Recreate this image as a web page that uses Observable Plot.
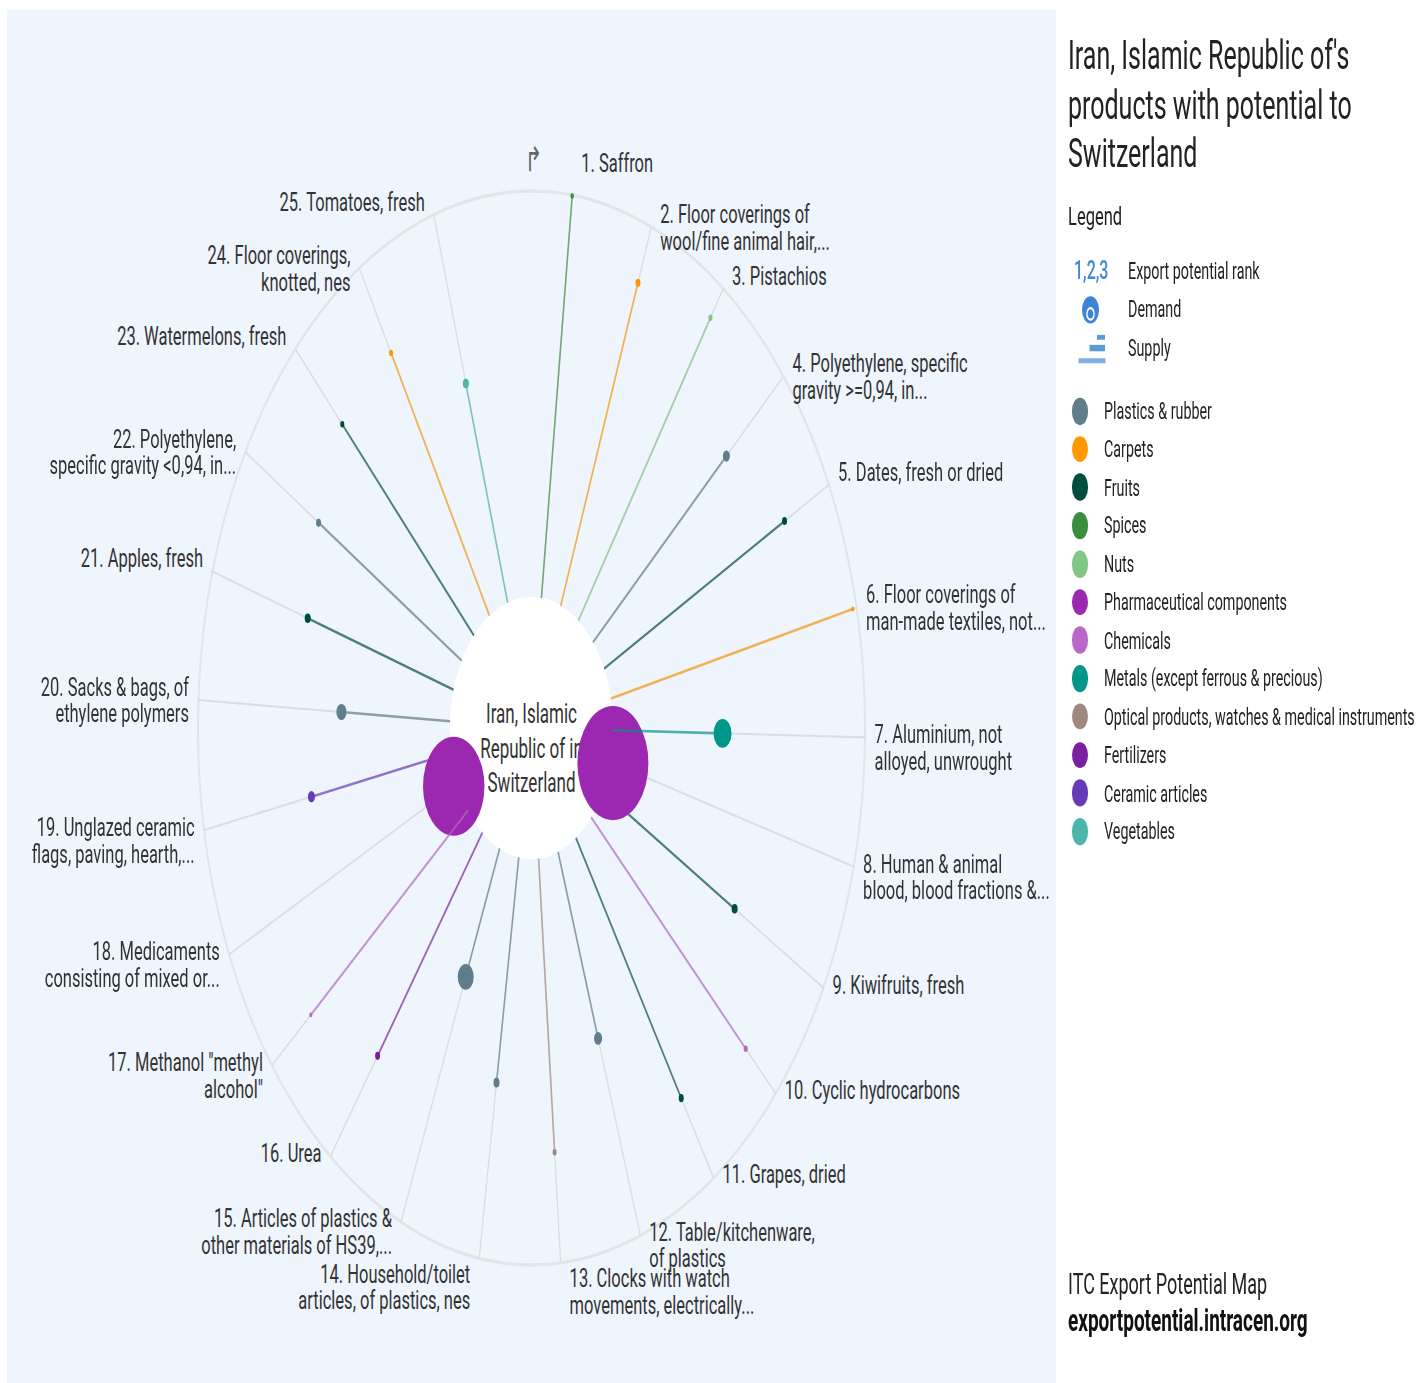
<!DOCTYPE html>
<html>
<head>
<meta charset="utf-8">
<script src="https://cdn.jsdelivr.net/npm/d3@7"></script>
<script src="https://cdn.jsdelivr.net/npm/@observablehq/plot@0.6"></script>
<style>
  html, body { margin: 0; padding: 0; background: #fff; }
  body { font-family: Roboto, "Noto Sans", sans-serif; color: #222; }
  #page { position: absolute; left: 0; top: 0; width: 1418px; height: 859px;
          transform: scaleY(1.61); transform-origin: 0 0; overflow: hidden; }
  #chart { position: absolute; left: 7px; top: 6.2px; }
  .abs { position: absolute; white-space: nowrap; }
  #title { left: 1068px; top: 20.2px; font-size: 25px; line-height: 30.4px; color: #222; }
  #legendTitle { left: 1068px; top: 125.4px; font-size: 16.5px; line-height: 20px; color: #222; }
  .row { position: absolute; left: 1068px; height: 18px; width: 340px; }
  .row .txt { position: absolute; top: 0; font-size: 14.3px; line-height: 18px; color: #222; white-space: nowrap; }
  .swatch { position: absolute; width: 16.6px; height: 16.6px; border-radius: 50%; }
  #foot1 { left: 1068px; font-size: 18px; line-height: 22px; color: #222; }
  #foot2 { left: 1068px; font-size: 19px; line-height: 22px; font-weight: 700; color: #111; }
</style>
</head>
<body>
<div id="page">
  <div id="chart"></div>
  <div class="abs" id="title">Iran, Islamic Republic of's<br>products with potential to<br>Switzerland</div>
  <div class="abs" id="legendTitle">Legend</div>
  <div id="legendTop"></div>
  <div id="legendSectors"></div>
  <div class="abs" id="foot1" style="top:786.5px">ITC Export Potential Map</div>
  <div class="abs" id="foot2" style="top:810.1px">exportpotential.intracen.org</div>
</div>
<script>
// ---------------- data ----------------
const ranks = d3.range(1, 26);

const products = [
  "Saffron",
  "Floor coverings of\nwool/fine animal hair,...",
  "Pistachios",
  "Polyethylene, specific\ngravity >=0,94, in...",
  "Dates, fresh or dried",
  "Floor coverings of\nman-made textiles, not...",
  "Aluminium, not\nalloyed, unwrought",
  "Human & animal\nblood, blood fractions &...",
  "Kiwifruits, fresh",
  "Cyclic hydrocarbons",
  "Grapes, dried",
  "Table/kitchenware,\nof plastics",
  "Clocks with watch\nmovements, electrically...",
  "Household/toilet\narticles, of plastics, nes",
  "Articles of plastics &\nother materials of HS39,...",
  "Urea",
  "Methanol \"methyl\nalcohol\"",
  "Medicaments\nconsisting of mixed or...",
  "Unglazed ceramic\nflags, paving, hearth,...",
  "Sacks & bags, of\nethylene polymers",
  "Apples, fresh",
  "Polyethylene,\nspecific gravity <0,94, in...",
  "Watermelons, fresh",
  "Floor coverings,\nknotted, nes",
  "Tomatoes, fresh"
];

const productSectors = [
  "Spices", "Carpets", "Nuts", "Plastics & rubber", "Fruits",
  "Carpets", "Metals (except ferrous & precious)", "Pharmaceutical components", "Fruits", "Chemicals",
  "Fruits", "Plastics & rubber", "Optical products, watches & medical instruments", "Plastics & rubber", "Plastics & rubber",
  "Fertilizers", "Chemicals", "Pharmaceutical components", "Ceramic articles", "Plastics & rubber",
  "Fruits", "Plastics & rubber", "Fruits", "Carpets", "Vegetables"
];

// relative distance of each product's dot from the centre disc (0 = disc edge, 1 = outer ring)
const potential = [
  1.0, 0.854, 0.913, 0.700, 0.802,
  0.983, 0.434, 0.011, 0.597, 0.837,
  0.766, 0.487, 0.728, 0.563, 0.344,
  0.690, 0.802, 0.017, 0.565, 0.431,
  0.604, 0.661, 0.737, 0.757, 0.566
];

// relative demand (bubble area)
const demand = [
  2.4, 5, 3.2, 9.7, 5,
  1.8, 64, 1000, 7.1, 3.2,
  5, 12.7, 3.2, 7.1, 51,
  5, 1.8, 748, 9.7, 20,
  7.1, 5, 3.2, 3.2, 7.1
];

const sectorNames = [
  "Plastics & rubber", "Carpets", "Fruits", "Spices", "Nuts",
  "Pharmaceutical components", "Chemicals", "Metals (except ferrous & precious)",
  "Optical products, watches & medical instruments", "Fertilizers", "Ceramic articles", "Vegetables"
];
const sectorColors = [
  "#607d8b", "#ff9800", "#004d40", "#388e3c", "#81c784",
  "#9c27b0", "#ba68c8", "#009688",
  "#a1887f", "#7b1fa2", "#673ab7", "#4db6ac"
];

const centreLabel = "Iran, Islamic\nRepublic of in\nSwitzerland";

// ---------------- layout ----------------
const W = 1049, H = 853;
const CX = 524, CY = 445.7, RX = 334, RY = 333;
const INNER = 81.5 / RX;
const FS = 16.5;
const angleOf = d3.scaleLinear([1, 25], [7, 343]);
const radial = d3.scaleLinear([0, 1], [INNER, 1]);

const rows = ranks.map((rank, i) => {
  const a = angleOf(rank) * Math.PI / 180, s = Math.sin(a), c = Math.cos(a);
  const d = radial(potential[i]);
  const right = s >= 0;
  const nearV = Math.abs(s) < 0.2;
  const lineCentre = nearV ? (c > 0 ? -20.5 : 9.8) : (c > 0 ? -8.4 : -2.3);
  const top = lineCentre - 0.355 * FS;
  return {
    rank, label: `${rank}. ${products[i]}`, sector: productSectors[i], demand: demand[i],
    x0: INNER * s, y0: INNER * c, x1: s, y1: c, xd: d * s, yd: d * c,
    lx: s + (right ? 9 : -9) / RX, ly: c - top / RY, right
  };
});

const origin = [{x: 0, y: 0, t: centreLabel}];

// products are drawn from the last rank to the first, each one's stem then its bubble
const productMarks = rows.slice().reverse().flatMap(r => [
  Plot.link([r], {x1: "x0", y1: "y0", x2: "xd", y2: "yd", stroke: "sector", strokeWidth: 1.6, strokeOpacity: 0.65}),
  Plot.dot([r], {x: "xd", y: "yd", r: "demand", fill: "sector"})
]);

const chart = Plot.plot({
  width: W, height: H, margin: 0,
  x: {domain: [-1, 1], range: [CX - RX, CX + RX], axis: null},
  y: {domain: [-1, 1], range: [CY + RY, CY - RY], axis: null},
  r: {type: "sqrt", domain: [0, 1000], range: [0, 35.5]},
  color: {domain: sectorNames, range: sectorColors},
  style: {background: "#eff5fd", fontFamily: "Roboto, sans-serif", overflow: "visible"},
  marks: [
    Plot.dot(origin, {x: "x", y: "y", r: RX - 0.5, fill: "none", stroke: "#e2e4e7", strokeWidth: 2}),
    Plot.link(rows, {x1: "x0", y1: "y0", x2: "x1", y2: "y1", stroke: "#dadde2", strokeWidth: 1.3}),
    Plot.dot(origin, {x: "x", y: "y", r: 81.5, fill: "white"}),
    Plot.text(origin, {x: "x", y: "y", text: "t", dy: 11.5, fontSize: 17, lineHeight: 1.27, fill: "#333"}),
    ...productMarks,
    Plot.text(rows.filter(d => d.right), {x: "lx", y: "ly", text: "label", textAnchor: "start", lineAnchor: "top", lineHeight: 1, fontSize: FS, fill: "#333"}),
    Plot.text(rows.filter(d => !d.right), {x: "lx", y: "ly", text: "label", textAnchor: "end", lineAnchor: "top", lineHeight: 1, fontSize: FS, fill: "#333"}),
    Plot.text([{x: 0.006, y: 1.06, t: "↱"}], {x: "x", y: "y", text: "t", fontSize: 21, fontFamily: "DejaVu Sans ExtraLight, DejaVu Sans", fill: "#666"})
  ]
});
document.getElementById("chart").appendChild(chart);

// ---------------- legend ----------------
const topItems = [
  {key: "rank", text: "Export potential rank", centre: 167.5},
  {key: "demand", text: "Demand", centre: 191.6},
  {key: "supply", text: "Supply", centre: 215.5}
];
const lt = document.getElementById("legendTop");
topItems.forEach(it => {
  const row = document.createElement("div");
  row.className = "row";
  row.style.top = (it.centre - 9) + "px";
  let icon = "";
  if (it.key === "rank") {
    icon = `<div style="position:absolute;left:6px;top:-1px;font-size:16px;line-height:20px;font-weight:500;color:#3f8bd8">1,2,3</div>`;
  } else if (it.key === "demand") {
    icon = `<svg style="position:absolute;left:13px;top:0" width="19" height="19" viewBox="0 0 19 19">
      <circle cx="9.5" cy="9.5" r="8.5" fill="#3d84d4"/>
      <circle cx="9.5" cy="12" r="3.6" fill="none" stroke="#fff" stroke-width="1.4"/></svg>`;
  } else {
    icon = `<svg style="position:absolute;left:8px;top:-1px" width="32" height="20" viewBox="0 0 32 20">
      <rect x="21" y="2" width="8" height="3" fill="#5b9bd5"/>
      <rect x="13.5" y="8.2" width="15.5" height="4" fill="#5b9bd5"/>
      <rect x="2.5" y="16.5" width="27" height="3.2" fill="#7fb0e0"/></svg>`;
  }
  row.innerHTML = icon + `<div class="txt" style="left:60px">${it.text}</div>`;
  lt.appendChild(row);
});

const ls = document.getElementById("legendSectors");
sectorNames.forEach((name, i) => {
  const centre = 255.3 + i * 23.73;
  const row = document.createElement("div");
  row.className = "row";
  row.style.top = (centre - 9) + "px";
  row.innerHTML = `<div class="swatch" style="left:3.7px;top:0.7px;background:${sectorColors[i]}"></div>` +
    `<div class="txt" style="left:36px">${name.replace(/&/g, "&amp;")}</div>`;
  ls.appendChild(row);
});
</script>
</body>
</html>
